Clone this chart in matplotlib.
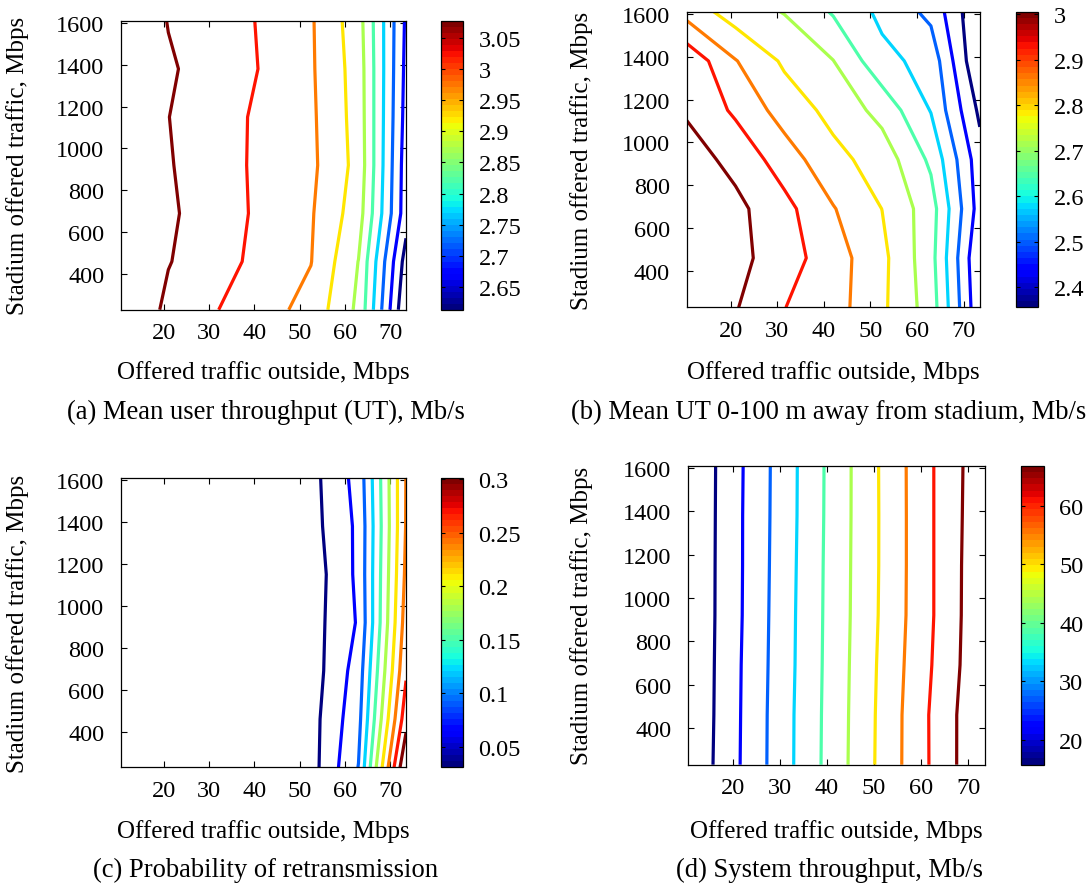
import numpy as np
import matplotlib
matplotlib.use('Agg')
import matplotlib.pyplot as plt
from matplotlib.colors import Normalize
from matplotlib.colorbar import ColorbarBase
from matplotlib.ticker import FuncFormatter

plt.rcParams['font.family'] = ['Liberation Serif', 'DejaVu Serif']
plt.rcParams['font.size'] = 17.5

# --- simulation grid ---
outside_traffic = [10.5, 21, 31.5, 42, 52.5, 63, 73.5]      # Mbps (x)
stadium_traffic = [230, 460, 690, 920, 1150, 1380, 1610]     # Mbps (y)

# rows = stadium traffic (low -> high), columns = outside traffic
mean_ut = [
    [3.0635, 3.0286, 2.9945, 2.9667, 2.9368, 2.8577, 2.6174],
    [3.0560, 3.0362, 3.0189, 2.9718, 2.9520, 2.8657, 2.6384],
    [3.0770, 3.0366, 3.0294, 2.9760, 2.9549, 2.8859, 2.6750],
    [3.0644, 3.0374, 3.0160, 2.9802, 2.9600, 2.8948, 2.6771],
    [3.0560, 3.0353, 3.0181, 2.9802, 2.9583, 2.8918, 2.6835],
    [3.0686, 3.0374, 3.0257, 2.9886, 2.9562, 2.8897, 2.6877],
    [3.0560, 3.0341, 3.0214, 2.9865, 2.9554, 2.8842, 2.6919],
]
mean_ut_near = [
    [2.9932, 2.9501, 2.8882, 2.8528, 2.7802, 2.6823, 2.4280],
    [3.0050, 2.9649, 2.9130, 2.8551, 2.7843, 2.6722, 2.4180],
    [2.9932, 2.9613, 2.9053, 2.8315, 2.7684, 2.6776, 2.4475],
    [2.9737, 2.9283, 2.8581, 2.7861, 2.7442, 2.6392, 2.4392],
    [2.9389, 2.8770, 2.8020, 2.7519, 2.6899, 2.5891, 2.4026],
    [2.9324, 2.8310, 2.7596, 2.7112, 2.6097, 2.5708, 2.3560],
    [2.8056, 2.7395, 2.7071, 2.6451, 2.5773, 2.5177, 2.3572],
]
p_retx = [
    [0.0307, 0.0312, 0.0322, 0.0356, 0.0450, 0.1051, 0.3010],
    [0.0307, 0.0312, 0.0322, 0.0356, 0.0454, 0.0968, 0.2666],
    [0.0307, 0.0312, 0.0322, 0.0351, 0.0422, 0.0909, 0.2481],
    [0.0307, 0.0312, 0.0322, 0.0356, 0.0440, 0.0823, 0.2386],
    [0.0307, 0.0312, 0.0322, 0.0344, 0.0410, 0.0852, 0.2322],
    [0.0307, 0.0312, 0.0322, 0.0356, 0.0457, 0.0848, 0.2285],
    [0.0307, 0.0312, 0.0322, 0.0356, 0.0467, 0.0887, 0.2278],
]
sys_thr = [
    [16.07, 24.54, 33.15, 41.58, 50.19, 58.66, 66.90],
    [15.86, 24.45, 33.11, 41.49, 50.10, 58.71, 66.81],
    [15.79, 24.36, 32.92, 41.39, 49.86, 58.15, 66.29],
    [15.79, 24.17, 32.83, 41.30, 49.54, 57.82, 66.20],
    [15.79, 24.12, 32.69, 41.25, 49.44, 57.82, 66.11],
    [15.70, 24.12, 32.55, 41.16, 49.44, 57.82, 65.88],
    [15.70, 24.03, 32.50, 41.11, 49.49, 57.82, 65.69],
]

# colour box ranges and ticks
cb_ranges = [(2.614, 3.077), (2.356, 3.005), (0.0307, 0.301), (15.7, 66.9)]
cb_ticks = [
    [2.65, 2.7, 2.75, 2.8, 2.85, 2.9, 2.95, 3.0, 3.05],
    [2.4, 2.5, 2.6, 2.7, 2.8, 2.9, 3.0],
    [0.05, 0.1, 0.15, 0.2, 0.25, 0.3],
    [20, 30, 40, 50, 60],
]
captions = [
    '(a) Mean user throughput (UT), Mb/s',
    '(b) Mean UT 0-100 m away from stadium, Mb/s',
    '(c) Probability of retransmission',
    '(d) System throughput, Mb/s',
]
n_levels = 10

W, H = 1089, 887
fig = plt.figure(figsize=(W / 100, H / 100), dpi=100)

# layout in pixels: axes (x0, y0, x1, y1), colour box (x0, x1), caption/label rows
layout = [
    dict(ax=(120.8, 21.7, 406.0, 310.7), cb=(441.4, 463.2), ylab=17.4, xlab_y=373, cap=(265.5, 412)),
    dict(ax=(686.6, 12.7, 979.8, 308.3), cb=(1015.9, 1038.4), ylab=581.4, xlab_y=373, cap=(828.7, 412)),
    dict(ax=(120.8, 479.0, 406.0, 768.3), cb=(441.4, 463.2), ylab=17.4, xlab_y=831.7, cap=(265.5, 870)),
    dict(ax=(688.0, 466.7, 984.6, 765.7), cb=(1021.4, 1044.0), ylab=581.4, xlab_y=831.7, cap=(829.5, 870)),
]


def frac_rect(x0, y0, x1, y1):
    return [x0 / W, 1 - y1 / H, (x1 - x0) / W, (y1 - y0) / H]


gfmt = FuncFormatter(lambda v, p: '%g' % v)
line_colors = [plt.cm.jet(k / (n_levels - 1)) for k in range(n_levels)]
X, Y = np.meshgrid(outside_traffic, stadium_traffic)

for data, rng, ticks, cap, lay in zip([mean_ut, mean_ut_near, p_retx, sys_thr],
                                      cb_ranges, cb_ticks, captions, layout):
    x0, y0, x1, y1 = lay['ax']
    ax = fig.add_axes(frac_rect(x0, y0, x1, y1))
    Z = np.array(data)
    levels = np.linspace(rng[0], rng[1], n_levels + 2)[1:-1]
    ax.contour(X, Y, Z, levels=levels, colors=line_colors, linewidths=2.3)
    ax.set_xlim(outside_traffic[0], outside_traffic[-1])
    ax.set_ylim(stadium_traffic[0], stadium_traffic[-1])
    ax.set_xticks([20, 30, 40, 50, 60, 70])
    ax.set_yticks([400, 600, 800, 1000, 1200, 1400, 1600])
    ax.tick_params(direction='in', length=4, width=0.8, top=True, right=True)
    ax.tick_params(axis='x', pad=9)
    ax.tick_params(axis='y', pad=12)
    for s in ax.spines.values():
        s.set_linewidth(0.9)

    cx0, cx1 = lay['cb']
    cax = fig.add_axes(frac_rect(cx0, y0, cx1, y1))
    cb = ColorbarBase(cax, cmap=plt.get_cmap('jet', 48), norm=Normalize(*rng),
                      orientation='vertical')
    cb.outline.set_linewidth(0.9)
    cb.set_ticks(ticks)
    cax.yaxis.set_major_formatter(gfmt)
    cax.tick_params(direction='in', length=3, width=0.8, left=True, right=True, pad=11)

    fig.text(lay['ylab'] / W, 1 - (y0 + y1) / 2 / H, 'Stadium offered traffic, Mbps',
             rotation=90, ha='center', va='center', fontsize=18)
    fig.text((x0 + x1) / 2 / W, 1 - lay['xlab_y'] / H, 'Offered traffic outside, Mbps',
             ha='center', va='center', fontsize=18)
    fig.text(lay['cap'][0] / W, 1 - lay['cap'][1] / H, cap, ha='center', va='center',
             fontsize=19.2)

fig.savefig('out.png', dpi=100)
